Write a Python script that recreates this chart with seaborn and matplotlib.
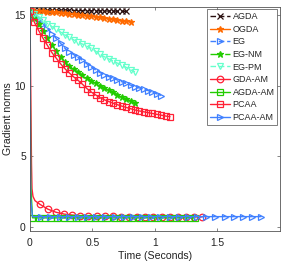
import numpy as np
import pandas as pd
import matplotlib
matplotlib.use("Agg")
import matplotlib.pyplot as plt
import seaborn as sns

# ---------------- data ----------------
TIME = [0.000, 0.035, 0.070, 0.105, 0.140, 0.175, 0.210, 0.245, 0.280, 0.315,
        0.350, 0.385, 0.420, 0.455, 0.490, 0.525, 0.560, 0.595, 0.630, 0.665,
        0.700, 0.735, 0.770, 0.805, 0.840, 0.875, 0.910, 0.945, 0.980, 1.015,
        1.050, 1.085, 1.120]

AGDA = [15.38, 15.38, 15.37, 15.37, 15.36, 15.36, 15.35, 15.35, 15.34, 15.34,
        15.33, 15.33, 15.32, 15.32, 15.31, 15.31, 15.30, 15.30, 15.29, 15.29,
        15.28, 15.28, 15.27]
OGDA = [15.35, 15.33, 15.30, 15.28, 15.25, 15.22, 15.19, 15.16, 15.13, 15.10,
        15.07, 15.03, 15.00, 14.96, 14.92, 14.88, 14.84, 14.80, 14.76, 14.72,
        14.67, 14.62, 14.57, 14.52]
EG = [15.3, 15.0, 14.7, 14.4, 14.05, 13.7, 13.35, 13.0, 12.65, 12.4, 12.2, 12.0,
      11.8, 11.55, 11.33, 11.12, 10.93, 10.78, 10.65, 10.52, 10.4, 10.28, 10.16,
      10.04, 9.93, 9.84, 9.74, 9.65, 9.55, 9.42, 9.3]
EG_NM = [15.3, 14.8, 14.35, 13.85, 13.35, 12.9, 12.45, 12.0, 11.65, 11.4, 11.15,
         10.95, 10.75, 10.55, 10.35, 10.17, 10.0, 9.84, 9.68, 9.52, 9.37, 9.22,
         9.07, 8.92, 8.78]
EG_PM = [15.3, 15.1, 14.9, 14.65, 14.4, 14.2, 14.0, 13.8, 13.6, 13.42, 13.25,
         13.1, 12.95, 12.8, 12.65, 12.45, 12.22, 12.05, 11.9, 11.75, 11.6, 11.45,
         11.3, 11.12, 10.98]
PCAA = [15.3, 14.5, 13.9, 13.35, 12.85, 12.35, 11.95, 11.55, 11.2, 10.9, 10.62,
        10.38, 10.1, 9.8, 9.55, 9.35, 9.15, 9.0, 8.88, 8.76, 8.65, 8.55, 8.46,
        8.37, 8.28, 8.21, 8.15, 8.09, 8.03, 7.97, 7.91, 7.85, 7.8]

GDA_AM_T = [0.0, 0.008, 0.012, 0.016, 0.024, 0.04, 0.078, 0.143, 0.208, 0.273,
            0.338, 0.403, 0.468, 0.533, 0.598, 0.663, 0.728, 0.793, 0.858, 0.923,
            0.988, 1.053, 1.118, 1.183, 1.248, 1.313, 1.378]
GDA_AM = [15.3, 8.0, 4.5, 2.7, 2.15, 1.85, 1.6, 1.25, 1.03, 0.9, 0.83, 0.79,
          0.77, 0.75, 0.74, 0.73, 0.72, 0.72, 0.71, 0.71, 0.7, 0.7, 0.7, 0.7,
          0.7, 0.7, 0.7]

AGDA_AM_T = [0.0, 0.006, 0.02, 0.07, 0.12, 0.17, 0.22, 0.27, 0.32, 0.37, 0.42,
             0.47, 0.52, 0.57, 0.62, 0.67, 0.72, 0.77, 0.82, 0.87, 0.92, 0.97,
             1.02, 1.07, 1.12, 1.17, 1.22, 1.27, 1.32]
AGDA_AM = [15.3, 3.0, 0.64, 0.63, 0.63, 0.63, 0.63, 0.63, 0.63, 0.63, 0.63,
           0.63, 0.63, 0.63, 0.63, 0.63, 0.63, 0.63, 0.63, 0.63, 0.63, 0.63,
           0.63, 0.63, 0.63, 0.63, 0.63, 0.63, 0.63]

PCAA_AM_T = [0.0, 0.005, 0.02, 0.09, 0.163, 0.237, 0.31, 0.383, 0.457, 0.53,
             0.603, 0.677, 0.75, 0.823, 0.897, 0.97, 1.043, 1.117, 1.19, 1.263,
             1.337, 1.41, 1.483, 1.557, 1.63, 1.703, 1.777, 1.85]
PCAA_AM = [15.3, 2.0, 0.72, 0.72, 0.72, 0.72, 0.72, 0.72, 0.72, 0.72, 0.72,
           0.72, 0.72, 0.72, 0.72, 0.72, 0.72, 0.72, 0.72, 0.72, 0.72, 0.72,
           0.72, 0.72, 0.72, 0.72, 0.72, 0.72]

LABELS = ["AGDA", "OGDA", "EG", "EG-NM", "EG-PM", "GDA-AM", "AGDA-AM", "PCAA", "PCAA-AM"]

# ---------------- style ----------------
sns.set_style("ticks")
plt.rcParams["font.family"] = ["Liberation Sans", "DejaVu Sans"]
plt.rcParams["font.size"] = 7

BLACK = "#2a1010"
ORANGE = "#FF6A00"
BLUE = "#4080FF"
GREEN = "#22CC00"
AQUA = "#66FFCC"
RED = "#FF2035"

series = [
    (LABELS[0], TIME[:len(AGDA)], AGDA, BLACK, (0, (4, 2)), "x", True, None),
    (LABELS[1], TIME[:len(OGDA)], OGDA, ORANGE, "-", "*", True, None),
    (LABELS[2], TIME[:len(EG)], EG, BLUE, (0, (4, 2)), ">", False, None),
    (LABELS[3], TIME[:len(EG_NM)], EG_NM, GREEN, "-.", "*", True, None),
    (LABELS[4], TIME[:len(EG_PM)], EG_PM, AQUA, (0, (4, 2)), "v", False, None),
    (LABELS[5], GDA_AM_T, GDA_AM, RED, "-", "o", False, slice(6, None)),
    (LABELS[6], AGDA_AM_T, AGDA_AM, GREEN, "-", "s", False, slice(2, None)),
    (LABELS[7], TIME[:len(PCAA)], PCAA, RED, "-", "s", False, None),
    (LABELS[8], PCAA_AM_T, PCAA_AM, BLUE, "-", ">", False, slice(3, None)),
]

fig = plt.figure(figsize=(2.87, 2.68), dpi=100)
ax = fig.add_axes([0.1045, 0.138, 0.871, 0.837])

for name, t, y, color, ls, mk, filled, me in series:
    df = pd.DataFrame({"t": t, "y": y})
    kws = dict(color=color, linestyle=ls, marker=mk, markersize=4.7,
               markeredgecolor=color, markeredgewidth=0.9, linewidth=1.0,
               label=name)
    if not filled:
        kws["markerfacecolor"] = "none"
    if me is not None:
        kws["markevery"] = me
    sns.lineplot(data=df, x="t", y="y", ax=ax, estimator=None, sort=False, **kws)

ax.set_xlim(0, 2)
ax.set_ylim(-0.3, 15.6)
ax.set_xticks([0, 0.5, 1, 1.5])
ax.set_xticklabels(["0", "0.5", "1", "1.5"])
ax.set_yticks([0, 5, 10, 15])
ax.set_xlabel("Time (Seconds)", fontsize=7.6, color="#222222", labelpad=2)
ax.set_ylabel("Gradient norms", fontsize=7.6, color="#222222", labelpad=1)

for s in ax.spines.values():
    s.set_visible(True)
    s.set_color("#555555")
    s.set_linewidth(0.6)
ax.tick_params(direction="in", length=2.5, width=0.5, colors="#555555",
               labelcolor="#222222", labelsize=7.4, top=True, right=True)
ax.tick_params(axis="x", pad=5)
ax.tick_params(axis="y", pad=3)

leg = ax.legend(loc="upper right", fontsize=6.5, frameon=True, fancybox=False,
                borderaxespad=0.3, handlelength=2.2, handletextpad=0.3,
                labelspacing=0.4, borderpad=0.3)
leg.get_frame().set_edgecolor("#444444")
leg.get_frame().set_linewidth(0.6)

fig.savefig("out.png", dpi=100)
